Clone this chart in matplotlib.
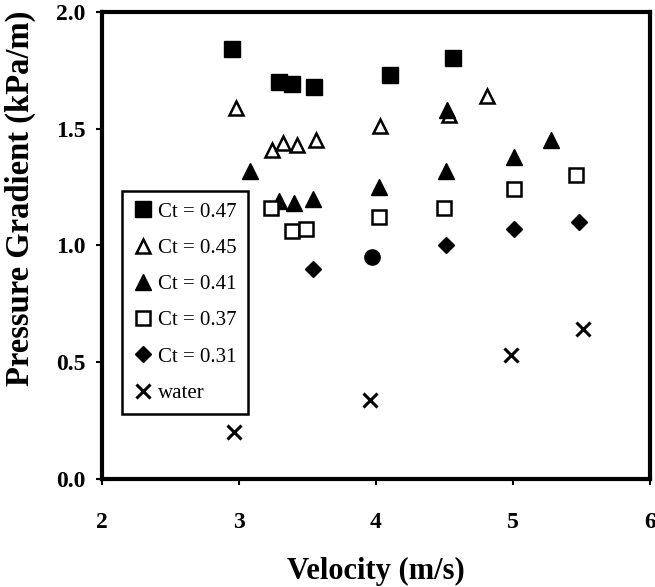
import matplotlib
matplotlib.use("Agg")
import matplotlib.pyplot as plt

plt.rcParams['font.family'] = ['Liberation Serif', 'DejaVu Serif']

# pressure gradient vs velocity, one series per concentration
v_047 = [2.95, 3.29, 3.39, 3.55, 4.10, 4.56]
dp_047 = [1.84, 1.70, 1.69, 1.68, 1.73, 1.80]

v_045 = [2.98, 3.24, 3.32, 3.42, 3.56, 4.03, 4.53, 4.81]
dp_045 = [1.59, 1.41, 1.44, 1.43, 1.45, 1.51, 1.56, 1.64]

v_041 = [3.08, 3.29, 3.40, 3.54, 4.02, 4.51, 4.52, 5.01, 5.28]
dp_041 = [1.32, 1.19, 1.18, 1.20, 1.25, 1.32, 1.58, 1.38, 1.45]

v_037 = [3.23, 3.39, 3.49, 4.02, 4.50, 5.01, 5.46]
dp_037 = [1.16, 1.06, 1.07, 1.12, 1.16, 1.24, 1.30]

v_031 = [3.54, 4.51, 5.01, 5.48]
dp_031 = [0.90, 1.00, 1.07, 1.10]
v_031_round = [3.97]
dp_031_round = [0.95]

v_water = [2.96, 3.96, 4.99, 5.51]
dp_water = [0.20, 0.34, 0.53, 0.64]

fig = plt.figure(figsize=(6.55, 5.87), dpi=100)
ax = fig.add_axes([0.156, 0.184, 0.836, 0.796])

ax.plot(v_047, dp_047, ls='none', marker='s', ms=12, mfc='black', mec='black', label='Ct = 0.47')
ax.plot(v_045, dp_045, ls='none', marker='^', ms=10.5, mfc='white', mec='black', mew=1.8, label='Ct = 0.45')
ax.plot(v_041, dp_041, ls='none', marker='^', ms=11, mfc='black', mec='black', label='Ct = 0.41')
ax.plot(v_037, dp_037, ls='none', marker='s', ms=10.5, mfc='white', mec='black', mew=1.8, label='Ct = 0.37')
ax.plot(v_031, dp_031, ls='none', marker='D', ms=8.5, mfc='black', mec='black', label='Ct = 0.31')
ax.plot(v_031_round, dp_031_round, ls='none', marker='o', ms=11, mfc='black', mec='black')
ax.plot(v_water, dp_water, ls='none', marker='x', ms=10, mec='black', mew=2.2, label='water')

ax.set_xlim(2, 6)
ax.set_ylim(0, 2.0)
ax.set_xticks([2, 3, 4, 5, 6])
ax.set_yticks([0.0, 0.5, 1.0, 1.5, 2.0])
ax.set_yticklabels(['0.0', '0.5', '1.0', '1.5', '2.0'])

for s in ax.spines.values():
    s.set_linewidth(3)
ax.tick_params(direction='out', length=4, width=1.5, labelsize=17)
ax.tick_params(axis='x', pad=20)
ax.tick_params(axis='y', pad=8)
for t in ax.get_xticklabels() + ax.get_yticklabels():
    t.set_fontweight('bold')

ax.set_xlabel('Velocity (m/s)', fontsize=22, fontweight='bold', labelpad=17)
ax.set_ylabel('Pressure Gradient (kPa/m)', fontsize=23.5, fontweight='bold')
ax.yaxis.set_label_coords(-0.12, 0.6)

leg = ax.legend(loc='upper left', bbox_to_anchor=(0.036, 0.617), borderaxespad=0,
                fancybox=False, edgecolor='black', framealpha=1, fontsize=15,
                handlelength=0.9, handletextpad=0.3, labelspacing=0.8,
                borderpad=0.55, numpoints=1)
leg.get_frame().set_linewidth(1.8)

fig.savefig('out.png', dpi=100)
